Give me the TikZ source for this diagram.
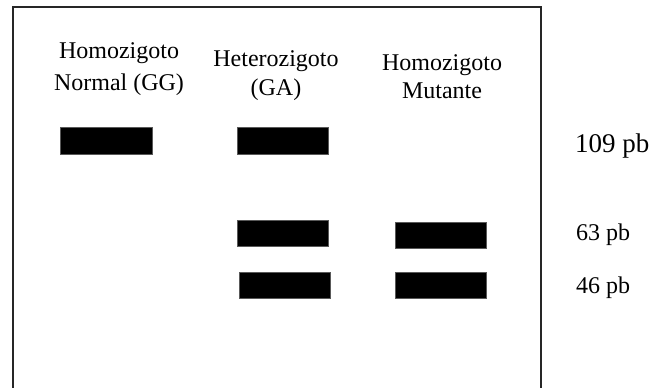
\documentclass[tikz,border=0pt]{standalone}
\usepackage{fontspec}
\setmainfont{Liberation Serif}
\begin{document}
\begin{tikzpicture}[x=1pt,y=-1pt,
  band/.style={fill=black,draw=black!65,line width=0.7pt},
  head/.style={inner sep=0pt,anchor=base,font=\fontsize{24}{30}\selectfont},
  size/.style={inner sep=0pt,anchor=base west,font=\fontsize{24}{30}\selectfont},
  bigsize/.style={inner sep=0pt,anchor=base west,font=\fontsize{27}{30}\selectfont}]
  \useasboundingbox (0,0) rectangle (659,388);
  % gel frame, open at the bottom
  \draw[line width=1.4pt,black!85] (13,388) -- (13,7) -- (541,7) -- (541,388);
  % lane headings
  \node[head] (h1a) at (119,58) {Homozigoto};
  \node[head] (h1b) at (119,90) {Normal (GG)};
  \node[head] (h2a) at (276,66) {Heterozigoto};
  \node[head] (h2b) at (276,95) {(GA)};
  \node[head] (h3a) at (442,70) {Homozigoto};
  \node[head] (h3b) at (442,98) {Mutante};
  % bands
  \path[band] (60,127) rectangle (152,154) coordinate (b1);
  \path[band] (237,127) rectangle (328,154) coordinate (b2);
  \path[band] (237,220) rectangle (328,246) coordinate (b3);
  \path[band] (239,272) rectangle (330,298) coordinate (b4);
  \path[band] (395,222) rectangle (486,248) coordinate (b5);
  \path[band] (395,272) rectangle (486,298) coordinate (b6);
  % fragment sizes
  \node[bigsize] (s109) at (575,152) {109 pb};
  \node[size] (s63) at (576,240) {63 pb};
  \node[size] (s46) at (576,293) {46 pb};
\end{tikzpicture}
\end{document}
